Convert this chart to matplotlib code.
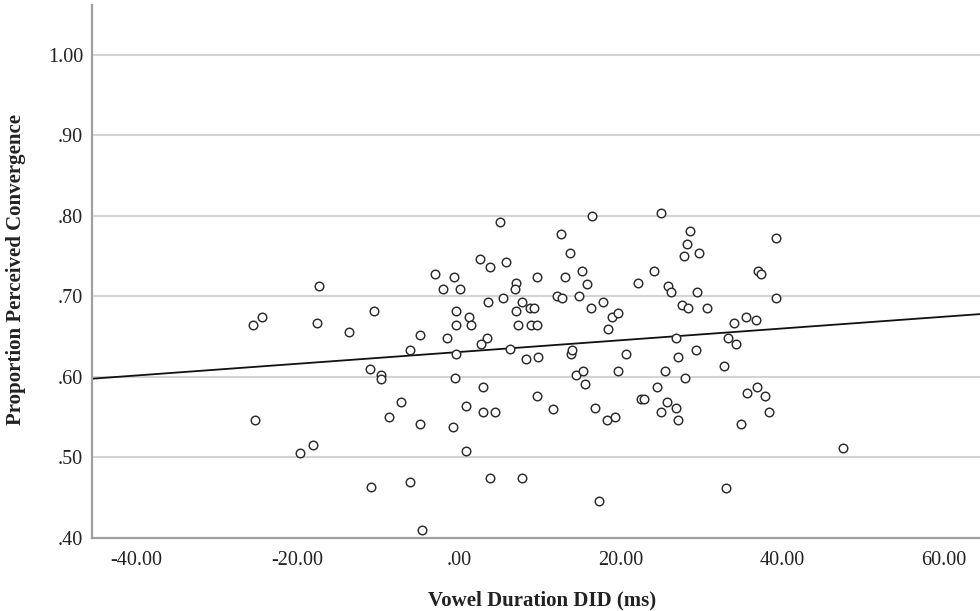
import numpy as np
import matplotlib
matplotlib.use("Agg")
import matplotlib.pyplot as plt

# ── Data ──────────────────────────────────────────────────────────────────────

vowel_did = [
    -25.47, -24.40, -17.38, -17.63, -10.57, -13.66, -4.87, -6.07, -11.02, -9.70,
    -9.62, -25.30, -7.14, -8.63, -4.79, -19.73, -18.12, -10.94, -6.07, -4.58,
    -2.93, -1.94, -0.66, 0.08, 2.60, 3.88, 5.82, 5.04, -0.41, 1.24,
    -0.33, 1.44, -1.53, 3.55, 5.41, 3.51, 2.72, -0.33, 6.32, 7.02,
    6.98, 7.02, 7.84, 8.83, 9.29, 7.35, 8.88, 9.62, 9.66, 8.34,
    9.78, -0.50, 2.93, 0.83, 2.93, 4.46, -0.78, 0.83, 3.84, 7.84,
    9.70, 11.60, 12.67, 13.79, 16.43, 13.09, 15.27, 15.81, 12.10, 12.71,
    14.82, 16.31, 17.79, 18.95, 19.69, 18.45, 13.91, 14.04, 14.53, 15.36,
    15.60, 19.69, 16.88, 18.37, 19.36, 17.30, 25.06, 28.57, 28.24, 27.91,
    29.76, 39.30, 24.19, 22.17, 25.84, 26.21, 29.51, 37.07, 37.36, 39.26,
    27.66, 28.36, 30.75, 20.68, 26.83, 27.08, 29.35, 25.55, 27.95, 24.52,
    22.50, 22.91, 25.80, 25.06, 26.91, 27.12, 34.10, 35.50, 36.78, 33.35,
    34.26, 32.82, 36.95, 35.62, 37.85, 38.43, 34.92, 47.51, 33.02,
]

perceived_conv = [
    .664, .675, .713, .667, .682, .656, .652, .633, .610, .602,
    .598, .546, .569, .550, .542, .505, .516, .463, .470, .410,
    .728, .709, .724, .709, .747, .736, .743, .793, .682, .675,
    .664, .664, .648, .693, .698, .648, .641, .629, .635, .717,
    .709, .682, .693, .686, .686, .664, .664, .664, .724, .622,
    .625, .599, .588, .564, .557, .557, .538, .508, .474, .474,
    .576, .560, .777, .754, .800, .724, .731, .716, .701, .698,
    .701, .686, .693, .675, .679, .660, .629, .634, .603, .607,
    .591, .607, .561, .546, .550, .446, .804, .781, .765, .750,
    .754, .773, .731, .717, .713, .705, .705, .732, .728, .698,
    .690, .686, .686, .629, .648, .625, .634, .607, .599, .588,
    .573, .573, .569, .557, .561, .546, .667, .675, .671, .648,
    .641, .614, .588, .580, .576, .557, .542, .512, .462,
]

# linear fit line as drawn in the reference
fit_intercept = 0.631
fit_slope = 0.00073

x_ticks = [-40, -20, 0, 20, 40, 60]
x_tick_labels = ["-40.00", "-20.00", ".00", "20.00", "40.00", "60.00"]
y_ticks = [0.4, 0.5, 0.6, 0.7, 0.8, 0.9, 1.0]
y_tick_labels = [".40", ".50", ".60", ".70", ".80", ".90", "1.00"]

# ── Style ─────────────────────────────────────────────────────────────────────

plt.rcParams["font.family"] = ["Liberation Serif", "DejaVu Serif"]
GRID_COL = "#d4d4d4"
AXIS_COL = "#a0a0a0"
TEXT_COL = "#222222"

# ── Figure ────────────────────────────────────────────────────────────────────

fig = plt.figure(figsize=(9.8, 6.11), dpi=100)
ax = fig.add_axes([0.0939, 0.1195, 0.9061, 0.8723])

ax.set_xlim(-45.44, 64.5)
ax.set_ylim(0.40, 1.062)

for yv in y_ticks[1:]:
    ax.axhline(yv, color=GRID_COL, linewidth=1.5, zorder=1)

ax.axline((0, fit_intercept), slope=fit_slope, color="#111111",
          linewidth=1.3, zorder=2)

ax.scatter(vowel_did, perceived_conv, s=38, facecolors="white",
           edgecolors="#2a2a2a", linewidths=1.05, zorder=3)

ax.set_xticks(x_ticks)
ax.set_xticklabels(x_tick_labels)
ax.set_yticks(y_ticks)
ax.set_yticklabels(y_tick_labels)
ax.tick_params(axis="both", length=0, labelsize=14.5, colors=TEXT_COL)
ax.tick_params(axis="x", pad=9.5)
ax.tick_params(axis="y", pad=6.5)

for side in ["top", "right"]:
    ax.spines[side].set_visible(False)
for side in ["left", "bottom"]:
    ax.spines[side].set_color(AXIS_COL)
    ax.spines[side].set_linewidth(1.6)

ax.set_xlabel("Vowel Duration DID (ms)", fontsize=15, fontweight="bold",
              color=TEXT_COL)
ax.xaxis.set_label_coords(0.507, -0.098)
ax.set_ylabel("Proportion Perceived Convergence", fontsize=15,
              fontweight="bold", color=TEXT_COL)
ax.yaxis.set_label_coords(-0.0745, 0.504)

fig.savefig("out.png", dpi=100)
plt.close()
